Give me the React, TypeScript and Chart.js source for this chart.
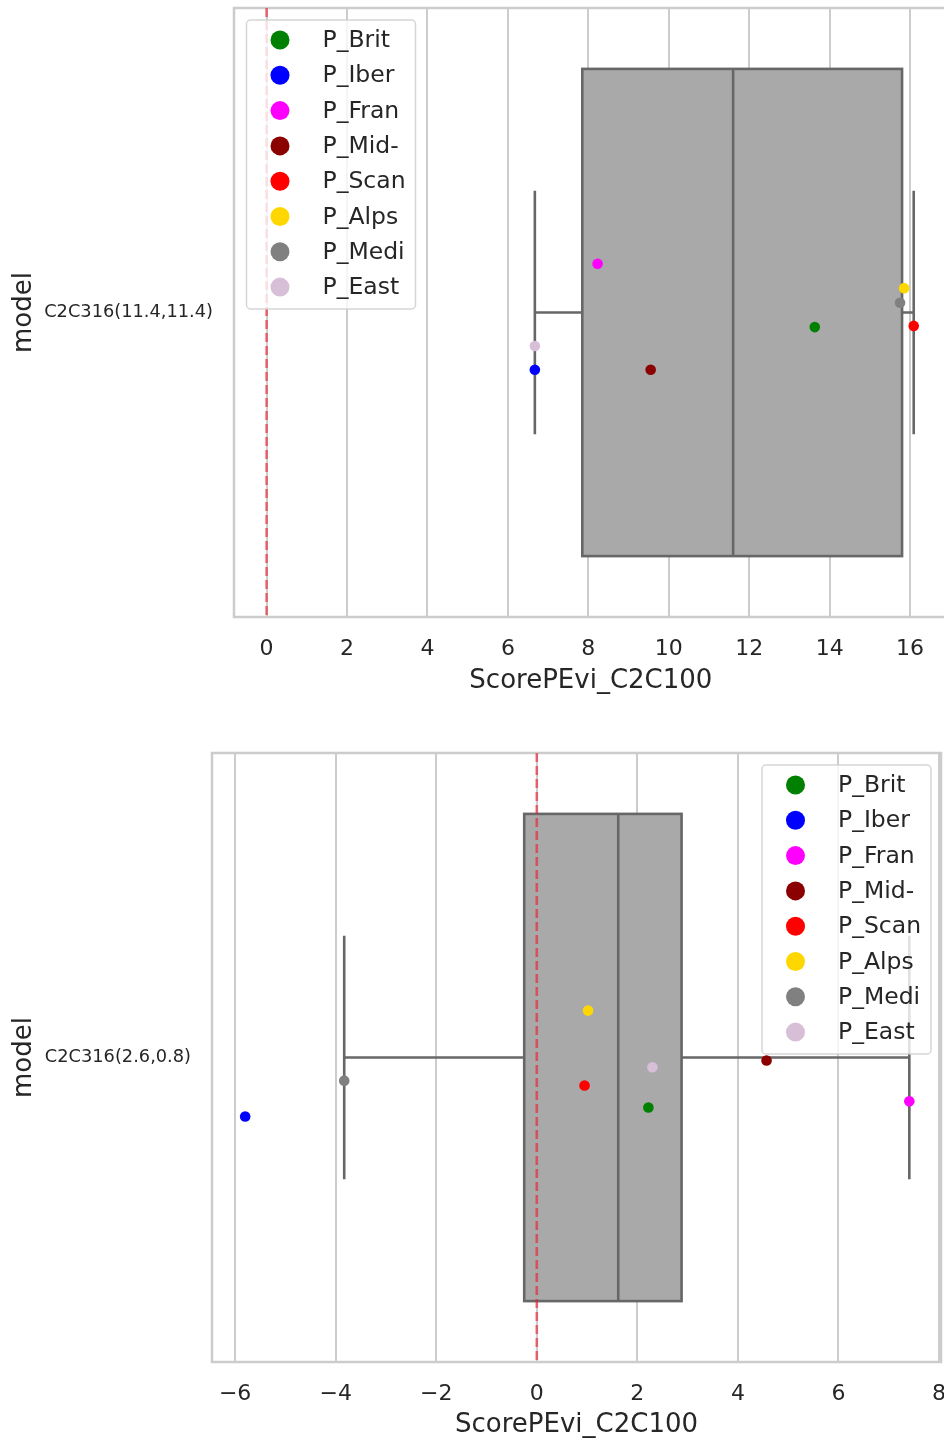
import React, { useEffect, useRef } from 'react';
import { Chart, registerables } from 'chart.js';

Chart.register(...registerables);

// ---------- data ----------
const groups = ['P_Brit', 'P_Iber', 'P_Fran', 'P_Mid-', 'P_Scan', 'P_Alps', 'P_Medi', 'P_East'];
const groupColors = ['#008000', '#0000ff', '#ff00ff', '#8b0000', '#ff0000', '#ffd700', '#808080', '#d8bfd8'];

// top panel
const topCategory = 'C2C316(11.4,11.4)';
const topScores = [13.63, 6.67, 8.23, 9.55, 16.09, 15.85, 15.75, 6.67];
const topJitter = [0.024, 0.094, -0.080, 0.094, 0.022, -0.040, -0.016, 0.055];
const topBox = [6.67, 7.85, 11.60, 15.80, 16.09]; // whisker low, q1, median, q3, whisker high
const topTicks = [0, 2, 4, 6, 8, 10, 12, 14, 16];

// bottom panel
const bottomCategory = 'C2C316(2.6,0.8)';
const bottomScores = [2.22, -5.80, 7.41, 4.57, 0.95, 1.02, -3.83, 2.30];
const bottomJitter = [0.082, 0.097, 0.072, 0.005, 0.046, -0.077, 0.038, 0.016];
const bottomBox = [-3.83, -0.25, 1.62, 2.88, 7.41];
const bottomTicks = [-6, -4, -2, 0, 2, 4, 6, 8];

const xTitle = 'ScorePEvi_C2C100';
const yTitle = 'model';
const refLine = 0;

const FONT = "'DejaVu Sans', 'Liberation Sans', sans-serif";
const TEXT = '#262626';
const GRID = '#cccccc';

type PanelProps = {
  top: number;
  height: number;
  width: number;
  padTop: number;
  padRight: number;
  xMin: number;
  xMax: number;
  xAxisHeight: number;
  yAxisWidth: number;
  category: string;
  scores: number[];
  jitter: number[];
  box: number[];
  ticks: number[];
  legendLoc: 'left' | 'right';
  titlePadBottom: number;
};

function makePlugin(box: number[], legendLoc: 'left' | 'right') {
  return {
    id: 'boxDraw',
    beforeDatasetsDraw(chart: any) {
      const { ctx, chartArea: a, scales } = chart;
      const x = scales.x;
      const y = scales.y;
      const px = (v: number) => x.getPixelForValue(v);
      const [lo, q1, med, q3, hi] = box;
      ctx.save();
      // frame
      ctx.strokeStyle = GRID;
      ctx.lineWidth = 2.5;
      ctx.strokeRect(a.left, a.top, a.right - a.left, a.bottom - a.top);
      // box
      const yc = y.getPixelForValue(0);
      const yt = y.getPixelForValue(-0.4);
      const yb = y.getPixelForValue(0.4);
      const ct = y.getPixelForValue(-0.2);
      const cb = y.getPixelForValue(0.2);
      ctx.fillStyle = '#a9a9a9';
      ctx.fillRect(px(q1), yt, px(q3) - px(q1), yb - yt);
      ctx.strokeStyle = '#676767';
      ctx.lineWidth = 2.6;
      ctx.strokeRect(px(q1), yt, px(q3) - px(q1), yb - yt);
      ctx.beginPath();
      ctx.moveTo(px(med), yt);
      ctx.lineTo(px(med), yb);
      ctx.moveTo(px(lo), yc);
      ctx.lineTo(px(q1), yc);
      ctx.moveTo(px(q3), yc);
      ctx.lineTo(px(hi), yc);
      ctx.moveTo(px(lo), ct);
      ctx.lineTo(px(lo), cb);
      ctx.moveTo(px(hi), ct);
      ctx.lineTo(px(hi), cb);
      ctx.stroke();
      // reference line
      ctx.beginPath();
      ctx.setLineDash([9, 4]);
      ctx.strokeStyle = 'rgba(235, 30, 45, 0.62)';
      ctx.lineWidth = 2.6;
      ctx.moveTo(px(refLine), a.top);
      ctx.lineTo(px(refLine), a.bottom);
      ctx.stroke();
      ctx.restore();
    },
    afterDraw(chart: any) {
      const { ctx, chartArea: a } = chart;
      const ds = chart.data.datasets;
      const w = 169;
      const rowH = 35.3;
      const h = 289;
      const left = legendLoc === 'left' ? a.left + 12.5 : a.right - 10 - w;
      const topY = a.top + 12;
      ctx.save();
      const r = 4;
      ctx.beginPath();
      ctx.moveTo(left + r, topY);
      ctx.lineTo(left + w - r, topY);
      ctx.arcTo(left + w, topY, left + w, topY + r, r);
      ctx.lineTo(left + w, topY + h - r);
      ctx.arcTo(left + w, topY + h, left + w - r, topY + h, r);
      ctx.lineTo(left + r, topY + h);
      ctx.arcTo(left, topY + h, left, topY + h - r, r);
      ctx.lineTo(left, topY + r);
      ctx.arcTo(left, topY, left + r, topY, r);
      ctx.closePath();
      ctx.fillStyle = 'rgba(255,255,255,0.8)';
      ctx.fill();
      ctx.strokeStyle = 'rgba(204,204,204,0.8)';
      ctx.lineWidth = 1.5;
      ctx.stroke();
      ctx.font = `23.5px ${FONT}`;
      ctx.textBaseline = 'middle';
      ctx.textAlign = 'left';
      ds.forEach((d: any, i: number) => {
        const cy = topY + 20 + i * rowH;
        ctx.beginPath();
        ctx.fillStyle = d.backgroundColor;
        ctx.arc(left + 33.5, cy, 9.5, 0, Math.PI * 2);
        ctx.fill();
        ctx.fillStyle = TEXT;
        ctx.fillText(d.label, left + 76, cy + 1);
      });
      ctx.restore();
    },
  };
}

function Panel(p: PanelProps) {
  const ref = useRef<HTMLCanvasElement | null>(null);
  useEffect(() => {
    if (!ref.current) return;
    const datasets = groups.map((g, i) => ({
      label: g,
      data: [{ x: p.scores[i], y: p.jitter[i] }],
      backgroundColor: groupColors[i],
      borderColor: groupColors[i],
      borderWidth: 0,
      pointRadius: 5.3,
      pointHoverRadius: 5.3,
    }));
    const chart = new Chart(ref.current, {
      type: 'scatter',
      data: { datasets },
      plugins: [makePlugin(p.box, p.legendLoc)],
      options: {
        animation: false,
        responsive: false,
        devicePixelRatio: 1,
        events: [],
        layout: { padding: { top: p.padTop, right: p.padRight, left: 0, bottom: 0 } },
        plugins: { legend: { display: false }, tooltip: { enabled: false } },
        scales: {
          x: {
            type: 'linear',
            min: p.xMin,
            max: p.xMax,
            afterBuildTicks: (s: any) => {
              s.ticks = p.ticks.map((v) => ({ value: v }));
            },
            afterFit: (s: any) => {
              s.height = p.xAxisHeight;
              s.paddingLeft = 0;
              s.paddingRight = 0;
            },
            ticks: {
              font: { family: FONT, size: 22 },
              color: TEXT,
              padding: 19,
              maxRotation: 0,
              autoSkip: false,
              callback: (v: any) => String(v).replace('-', '\u2212'),
            },
            grid: { color: GRID, lineWidth: 2, drawTicks: false },
            border: { display: false },
            title: {
              display: true,
              text: xTitle,
              color: TEXT,
              font: { family: FONT, size: 26 },
              padding: { top: 0, bottom: p.titlePadBottom },
            },
          },
          y: {
            type: 'linear',
            min: -0.5,
            max: 0.5,
            reverse: true,
            afterBuildTicks: (s: any) => {
              s.ticks = [{ value: 0 }];
            },
            afterFit: (s: any) => {
              s.width = p.yAxisWidth;
              s.paddingTop = 0;
              s.paddingBottom = 0;
            },
            ticks: {
              font: { family: FONT, size: 17.8 },
              color: TEXT,
              padding: 21,
              callback: () => p.category,
            },
            grid: { display: false, drawTicks: false },
            border: { display: false },
            title: {
              display: true,
              text: yTitle,
              color: TEXT,
              font: { family: FONT, size: 26 },
              padding: { top: 9, bottom: 0 },
            },
          },
        },
      },
    } as any);
    return () => chart.destroy();
  }, []);
  return (
    <canvas
      ref={ref}
      width={p.width}
      height={p.height}
      style={{ position: 'absolute', left: 0, top: p.top, width: p.width, height: p.height }}
    />
  );
}

export default function App() {
  return (
    <div
      style={{
        position: 'absolute',
        left: 0,
        top: 0,
        width: 944,
        height: 1441,
        overflow: 'hidden',
        background: '#ffffff',
      }}
    >
      <Panel
        top={0}
        height={700}
        width={953}
        padTop={8}
        padRight={0}
        xMin={-0.81}
        xMax={16.935}
        xAxisHeight={83}
        yAxisWidth={234}
        category={topCategory}
        scores={topScores}
        jitter={topJitter}
        box={topBox}
        ticks={topTicks}
        legendLoc="left"
        titlePadBottom={3.4}
      />
      <Panel
        top={720}
        height={721}
        width={1000}
        padTop={33}
        padRight={59}
        xMin={-6.46}
        xMax={8.04}
        xAxisHeight={79}
        yAxisWidth={212}
        category={bottomCategory}
        scores={bottomScores}
        jitter={bottomJitter}
        box={bottomBox}
        ticks={bottomTicks}
        legendLoc="right"
        titlePadBottom={0.4}
      />
    </div>
  );
}
